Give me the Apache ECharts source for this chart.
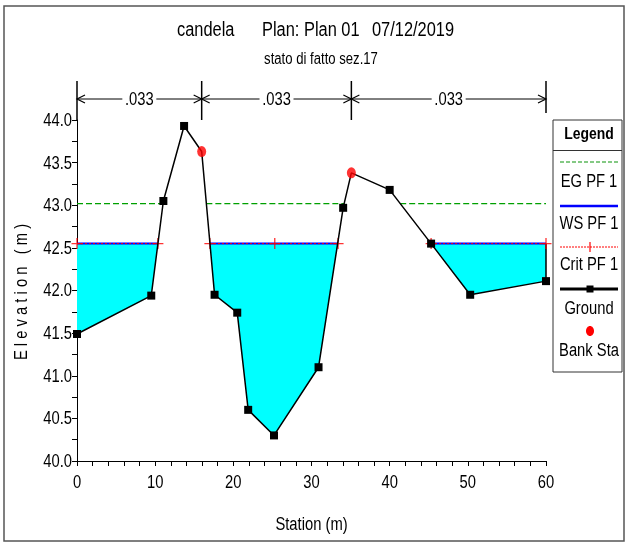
<!DOCTYPE html>
<html>
<head>
<meta charset="utf-8">
<script src="https://cdn.jsdelivr.net/npm/echarts@6/dist/echarts.min.js"></script>
<style>
  html, body { margin: 0; padding: 0; background: #fff; }
  #main { width: 626px; height: 543px; }
</style>
</head>
<body>
<div id="main"></div>
<script>
// Cross-section sez.17 – ground profile and water surfaces (PF 1)
const groundStation = [0, 9.5, 11.05, 13.7, 15.95, 17.6, 20.5, 21.9, 25.2, 30.9, 34.05, 35.1, 40.0, 45.3, 50.3, 60];
const groundElev    = [41.49, 41.94, 43.05, 43.93, 43.63, 41.95, 41.74, 40.6, 40.3, 41.1, 42.97, 43.38, 43.18, 42.55, 41.95, 42.11];
const bankStation = [15.95, 35.1];
const bankElev    = [43.63, 43.38];
const wsElev = 42.55;   // WS PF 1
const egElev = 43.02;   // EG PF 1
const critStation = [0, 10.35, 17.0, 25.3, 33.4, 45.3, 60];
const manningN = ['.033', '.033', '.033'];
const xTickValues = [0, 10, 20, 30, 40, 50, 60];
const yTickValues = [40.0, 40.5, 41.0, 41.5, 42.0, 42.5, 43.0, 43.5, 44.0];

const FONT = "'Liberation Sans', Arial, sans-serif";
const NARROW = 0.82;   // horizontal squeeze giving a condensed typeface look

// Wetted polygons: parts of the section where the ground lies below a level
function wetPolygons(level) {
  const polys = [];
  let cur = null;
  const n = groundStation.length;
  for (let i = 0; i < n; i++) {
    const wet = groundElev[i] <= level;
    if (i === 0) {
      if (wet) cur = [[groundStation[0], level]];
    } else {
      const prevWet = groundElev[i - 1] <= level;
      if (wet !== prevWet) {
        const x0 = groundStation[i - 1], x1 = groundStation[i];
        const y0 = groundElev[i - 1], y1 = groundElev[i];
        const c = x0 + (level - y0) / (y1 - y0) * (x1 - x0);
        if (wet) {
          cur = [[c, level]];
        } else {
          cur.push([c, level]);
          polys.push(cur);
          cur = null;
        }
      }
    }
    if (wet) cur.push([groundStation[i], groundElev[i]]);
  }
  if (cur) {
    cur.push([groundStation[n - 1], level]);
    polys.push(cur);
  }
  return polys;
}

const wsPolys = wetPolygons(wsElev);
const egPolys = wetPolygons(egElev);

function levelSeries(polys, level, name, style, z) {
  return polys.map(p => ({
    type: 'line',
    name: name,
    data: [[p[0][0], level], [p[p.length - 1][0], level]],
    symbol: 'none',
    lineStyle: style,
    z: z,
    silent: true,
    animation: false
  }));
}

const chart = echarts.init(document.getElementById('main'), null, { renderer: 'canvas' });

const series = [];

// cyan water area
series.push({
  type: 'custom',
  name: 'water',
  data: wsPolys.map((p, i) => [p[0][0], wsElev, i]),
  encode: { x: 0, y: 1 },
  renderItem: function (params, api) {
    const poly = wsPolys[params.dataIndex];
    const pts = poly.map(p => api.coord(p));
    const children = [{ type: 'polygon', shape: { points: pts }, style: { fill: '#00ffff', stroke: null } }];
    const last = poly[poly.length - 1];
    const prev = poly[poly.length - 2];
    if (last[0] === prev[0] && last[1] !== prev[1]) {
      children.push({ type: 'line', shape: { x1: pts[pts.length - 1][0], y1: pts[pts.length - 1][1], x2: pts[pts.length - 2][0], y2: pts[pts.length - 2][1] }, style: { stroke: '#000', lineWidth: 1.5 } });
    }
    return { type: 'group', children: children };
  },
  z: 1,
  silent: true,
  animation: false
});

// EG PF 1
series.push(...levelSeries(egPolys, egElev, 'EG PF 1', { color: '#00a000', width: 1.3, type: [6, 3] }, 2));
// WS PF 1
series.push(...levelSeries(wsPolys, wsElev, 'WS PF 1', { color: '#0000ff', width: 2 }, 3));
// Crit PF 1
series.push(...levelSeries(wsPolys, wsElev, 'Crit PF 1', { color: '#ff0000', width: 1, type: [2, 2] }, 4));
series.push({
  type: 'scatter',
  name: 'Crit PF 1',
  data: critStation.map(s => [s, wsElev]),
  symbol: 'path://M4.4,0h1.2v4.4h4.4v1.2h-4.4v4.4h-1.2v-4.4h-4.4v-1.2h4.4z',
  symbolSize: 11,
  itemStyle: { color: '#ff0000' },
  z: 5,
  silent: true,
  animation: false
});
// Ground (bank stations carry the red dot instead of the square)
series.push({
  type: 'line',
  name: 'Ground',
  data: groundStation.map((s, i) => (
    bankStation.indexOf(s) >= 0
      ? { value: [s, groundElev[i]], symbol: 'none' }
      : [s, groundElev[i]]
  )),
  symbol: 'rect',
  symbolSize: 8,
  showAllSymbol: true,
  itemStyle: { color: '#000' },
  lineStyle: { color: '#000', width: 1.5 },
  z: 6,
  silent: true,
  animation: false
});
// Bank Sta
series.push({
  type: 'scatter',
  name: 'Bank Sta',
  data: bankStation.map((s, i) => [s, bankElev[i]]),
  symbol: 'circle',
  symbolSize: [9, 11],
  itemStyle: { color: '#ff0000' },
  z: 7,
  silent: true,
  animation: false
});

chart.setOption({
  animation: false,
  backgroundColor: '#fff',
  grid: { left: 77, right: 80, top: 120, bottom: 82, containLabel: false },
  xAxis: {
    type: 'value',
    min: xTickValues[0],
    max: xTickValues[xTickValues.length - 1],
    interval: 10,
    axisLine: { show: true, onZero: false, lineStyle: { color: '#000', width: 1 } },
    axisTick: { show: true, length: 5, lineStyle: { color: '#000' } },
    minorTick: { show: true, splitNumber: 5, length: 5, lineStyle: { color: '#000' } },
    splitLine: { show: false },
    axisLabel: { show: false }
  },
  yAxis: {
    type: 'value',
    min: yTickValues[0],
    max: yTickValues[yTickValues.length - 1],
    interval: 0.5,
    axisLine: { show: true, onZero: false, lineStyle: { color: '#000', width: 1 } },
    axisTick: { show: true, length: 5, lineStyle: { color: '#000' } },
    minorTick: { show: true, splitNumber: 2, length: 5, lineStyle: { color: '#000' } },
    splitLine: { show: false },
    axisLabel: { show: false }
  },
  series: series
});

// Overlay: frame, titles, tick labels, Manning's n bar, legend
const toPx = (x, y) => chart.convertToPixel({ gridIndex: 0 }, [x, y]);
const g = [];

g.push({ type: 'rect', shape: { x: 4, y: 6, width: 620, height: 535 }, style: { fill: null, stroke: '#555', lineWidth: 1.5 }, z: 0 });

function txt(text, x, y, size, extra, styleExtra) {
  return Object.assign({
    type: 'text', x: x, y: y, scaleX: NARROW,
    style: Object.assign({ text: text, fill: '#000', fontFamily: FONT, fontSize: size, align: 'center', verticalAlign: 'middle' }, styleExtra || {}),
    z: 20
  }, extra || {});
}

// titles
g.push(txt('candela', 177, 30, 20, null, { align: 'left' }));
g.push(txt('Plan: Plan 01', 262, 30, 20, null, { align: 'left' }));
g.push(txt('07/12/2019', 372, 30, 20, null, { align: 'left' }));
g.push(txt('stato di fatto sez.17', 321, 60, 16));

// tick labels
xTickValues.forEach(v => {
  const p = toPx(v, yTickValues[0]);
  g.push(txt(String(v), p[0], p[1] + 22, 18));
});
yTickValues.forEach(v => {
  const p = toPx(xTickValues[0], v);
  g.push(txt(v.toFixed(1), p[0] - 5, p[1] + 1, 18, null, { align: 'right' }));
});

// axis titles
const xMid = toPx((xTickValues[0] + xTickValues[xTickValues.length - 1]) / 2, yTickValues[0]);
g.push(txt('Station (m)', xMid[0], xMid[1] + 64, 18));
g.push({
  type: 'text', x: 22, y: 292, rotation: Math.PI / 2, scaleX: NARROW,
  style: { text: 'E l e v a t i o n   ( m )', fill: '#000', fontFamily: FONT, fontSize: 18, align: 'center', verticalAlign: 'middle' },
  z: 20
});

// Manning's n bar with bank station markers
const barY = 99;
const marks = [xTickValues[0], bankStation[0], bankStation[1], xTickValues[xTickValues.length - 1]];
const markPx = marks.map(s => toPx(s, wsElev)[0]);
markPx.forEach((x, i) => {
  const bottom = (i === markPx.length - 1) ? 113 : 120;
  g.push({ type: 'line', shape: { x1: x, y1: 81, x2: x, y2: bottom }, style: { stroke: '#000', lineWidth: 1.5 }, z: 20 });
});
function arrow(xTip, dir) {
  // dir = -1 points left, +1 points right
  return { type: 'polyline', shape: { points: [[xTip - dir * 8, barY - 4], [xTip, barY], [xTip - dir * 8, barY + 4]] }, style: { stroke: '#000', lineWidth: 1.2, fill: null }, z: 21 };
}
for (let i = 0; i < markPx.length - 1; i++) {
  const a = markPx[i], b = markPx[i + 1];
  const c = (a + b) / 2;
  const half = 17;
  g.push({ type: 'line', shape: { x1: a, y1: barY, x2: c - half, y2: barY }, style: { stroke: '#000', lineWidth: 1 }, z: 20 });
  g.push({ type: 'line', shape: { x1: c + half, y1: barY, x2: b, y2: barY }, style: { stroke: '#000', lineWidth: 1 }, z: 20 });
  g.push(arrow(a, -1));
  g.push(arrow(b, 1));
  g.push(txt(manningN[i], c, barY + 1, 18));
}

// Legend box
const lx = 553, ly = 120, lw = 69, lh = 252, lc = 589;
g.push({ type: 'rect', shape: { x: lx, y: ly, width: lw, height: lh }, style: { fill: '#fff', stroke: '#333', lineWidth: 1 }, z: 19 });
g.push({ type: 'line', shape: { x1: lx, y1: 150.5, x2: lx + lw, y2: 150.5 }, style: { stroke: '#333', lineWidth: 1 }, z: 20 });
g.push(txt('Legend', lc, 134, 17, null, { fontWeight: 'bold' }));
const l1 = lx + 7, l2 = lx + lw - 4;
g.push({ type: 'line', shape: { x1: l1, y1: 162, x2: l2, y2: 162 }, style: { stroke: '#5cb85c', lineWidth: 1.5, lineDash: [4, 2] }, z: 20 });
g.push(txt('EG PF 1', lc, 182, 18));
g.push({ type: 'line', shape: { x1: l1, y1: 206, x2: l2, y2: 206 }, style: { stroke: '#0000ff', lineWidth: 2.5 }, z: 20 });
g.push(txt('WS PF 1', lc, 224, 18));
g.push({ type: 'line', shape: { x1: l1, y1: 247, x2: l2, y2: 247 }, style: { stroke: '#ff0000', lineWidth: 1, lineDash: [2, 1] }, z: 20 });
g.push({ type: 'line', shape: { x1: 590, y1: 242, x2: 590, y2: 252 }, style: { stroke: '#ff0000', lineWidth: 1.2 }, z: 20 });
g.push(txt('Crit PF 1', lc, 265, 18));
g.push({ type: 'line', shape: { x1: l1, y1: 289, x2: l2, y2: 289 }, style: { stroke: '#000', lineWidth: 3 }, z: 20 });
g.push({ type: 'rect', shape: { x: 586.5, y: 285.5, width: 7, height: 7 }, style: { fill: '#000' }, z: 21 });
g.push(txt('Ground', lc, 309, 18));
g.push({ type: 'ellipse', shape: { cx: 590, cy: 331, rx: 4, ry: 5 }, style: { fill: '#ff0000' }, z: 20 });
g.push(txt('Bank Sta', lc, 351, 18));

chart.setOption({ graphic: { elements: g } });
</script>
</body>
</html>
